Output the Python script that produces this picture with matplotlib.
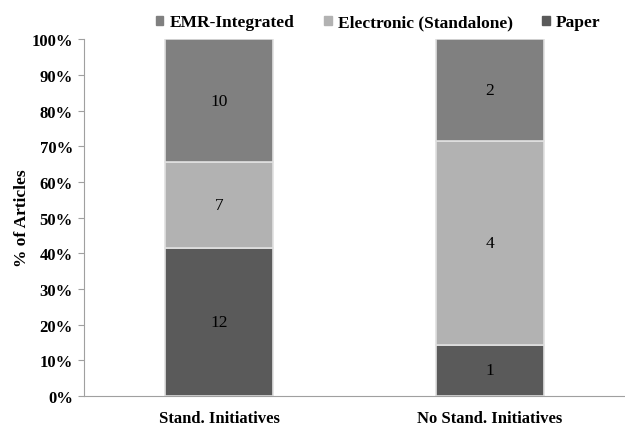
import matplotlib
matplotlib.use("Agg")
import matplotlib.pyplot as plt
from matplotlib.patches import Patch
from matplotlib.ticker import PercentFormatter

categories = ["Stand. Initiatives", "No Stand. Initiatives"]
series_names = ["Paper", "Electronic (Standalone)", "EMR-Integrated"]
paper = [12, 1]
electronic = [7, 4]
emr = [10, 2]
colors = {"Paper": "#5a5a5a", "Electronic (Standalone)": "#b2b2b2", "EMR-Integrated": "#808080"}

plt.rcParams['font.family'] = ['Liberation Serif', 'DejaVu Serif']

fig = plt.figure(figsize=(6.25, 4.27), dpi=100)
ax = fig.add_axes([0.1344, 0.0703, 0.8656, 0.8357])

series = [paper, electronic, emr]
totals = [sum(v) for v in zip(*series)]
x = list(range(len(categories)))
bottoms = [0.0] * len(categories)
for name, vals in zip(series_names, series):
    pct = [v / t * 100 for v, t in zip(vals, totals)]
    ax.bar(x, pct, width=0.4, bottom=bottoms, color=colors[name],
           edgecolor="#e0e0e0", linewidth=1.2, label=name)
    for xi, p, b, v in zip(x, pct, bottoms, vals):
        ax.text(xi, b + p / 2, str(v), ha="center", va="center",
                fontsize=12.5, color="black")
    bottoms = [b + p for b, p in zip(bottoms, pct)]

ax.set_xlim(-0.5, 1.5)
ax.set_ylim(0, 100)
ax.set_yticks(range(0, 101, 10))
ax.yaxis.set_major_formatter(PercentFormatter(decimals=0))
ax.set_xticks(x)
ax.set_xticklabels(categories, fontweight="bold", fontsize=12)
for lab in ax.get_yticklabels():
    lab.set_fontweight("bold")
    lab.set_fontsize(12)
ax.tick_params(axis="y", direction="out", length=4, color="#a0a0a0", pad=4)
ax.tick_params(axis="x", length=0, pad=10)
for s in ["top", "right"]:
    ax.spines[s].set_visible(False)
for s in ["left", "bottom"]:
    ax.spines[s].set_color("#a0a0a0")
ax.set_ylabel("% of Articles", fontweight="bold", fontsize=12.5)
ax.yaxis.set_label_coords(-0.10, 0.5)

legend_order = ["EMR-Integrated", "Electronic (Standalone)", "Paper"]
handles = [Patch(color=colors[n]) for n in legend_order]
fig.legend(handles, legend_order,
           loc="center", bbox_to_anchor=(0.605, 0.945), ncol=3, frameon=False,
           handlelength=0.45, handleheight=0.45, handletextpad=0.35, columnspacing=1.7,
           prop={"weight": "bold", "size": 12.5})

fig.savefig("out.png", dpi=100)
